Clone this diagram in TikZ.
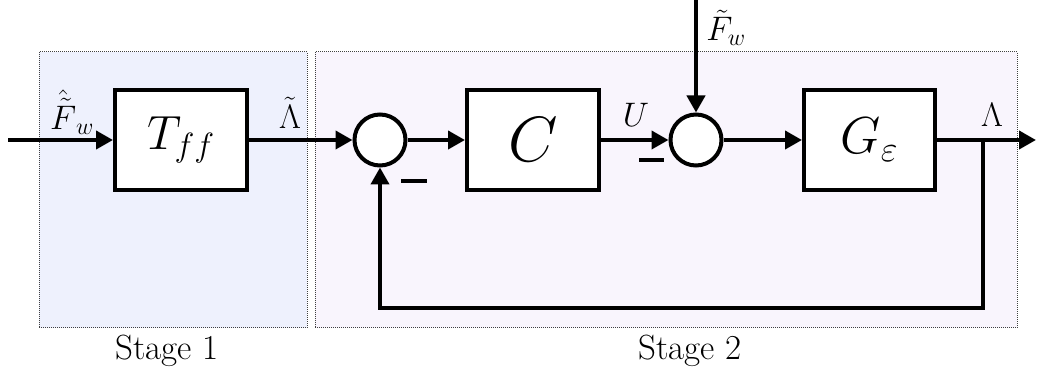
\RequirePackage{fix-cm}
\documentclass[tikz,border=0pt]{standalone}
\usetikzlibrary{arrows.meta}
\definecolor{stageone}{RGB}{238,241,253}
\definecolor{stagetwo}{RGB}{249,245,253}
\begin{document}
\begin{tikzpicture}[x=1pt,y=-1pt,
  blk/.style={draw,line width=4pt,fill=white,minimum height=100pt,inner sep=0pt},
  sumc/.style={draw,circle,line width=4pt,fill=white,minimum size=51pt,inner sep=0pt},
  sig/.style={line width=4pt,-{Triangle[length=17pt,width=18pt]}},
  wire/.style={line width=4pt},
  lab/.style={inner sep=0pt,font=\fontsize{34}{40}\selectfont},
  stagebox/.style={draw=black!75,densely dotted,line width=1pt},
  stagelab/.style={inner sep=0pt,font=\fontsize{35}{40}\selectfont}
]
\useasboundingbox (0,0) rectangle (1037,371);
% stage backgrounds
\draw[stagebox,fill=stageone] (39,52) rectangle (307,328);
\draw[stagebox,fill=stagetwo] (315,52) rectangle (1017,328);
\node[stagelab] (st1) at (167,351) {Stage 1};
\node[stagelab] (st2) at (690,351) {Stage 2};
% blocks
\node[blk,minimum width=132pt,font=\fontsize{48}{56}\selectfont] (T) at (181,140) {$T_{ff}$};
\node[blk,minimum width=132pt,font=\fontsize{64}{72}\selectfont] (C) at (533,140) {$C$};
\node[blk,minimum width=131pt,font=\fontsize{52}{60}\selectfont] (G) at (869.5,140) {$G_{\varepsilon}$};
\node[sumc] (s1) at (380,140) {};
\node[sumc] (s2) at (696,140) {};
% coordinates
\coordinate (in) at (8,140);
\coordinate (fin) at (696,0);
\coordinate (out) at (1036,140);
\coordinate (br) at (983,140);
\coordinate (fb) at (983,308);
% signals
\draw[sig] (in) -- (T);
\draw[sig] (T) -- (s1);
\draw[sig] (s1) -- (C);
\draw[sig] (C) -- (s2);
\draw[sig] (s2) -- (G);
\draw[sig] (G) -- (out);
\draw[sig] (fin) -- (s2);
\draw[sig] (br) -- (fb) -| (s1);
% minus signs
\draw[wire] (401,181) -- (427,181);
\draw[wire] (639,160) -- (664,160);
% labels
\node[lab] (lin) at (72,112) {$\hat{\tilde{F}}_w$};
\node[lab] (lLt) at (290,113) {$\tilde{\Lambda}$};
\node[lab] (lU) at (636,115) {$U$};
\node[lab] (lFw) at (726,28) {$\tilde{F}_w$};
\node[lab] (lL) at (992,115) {$\Lambda$};
\end{tikzpicture}
\end{document}
